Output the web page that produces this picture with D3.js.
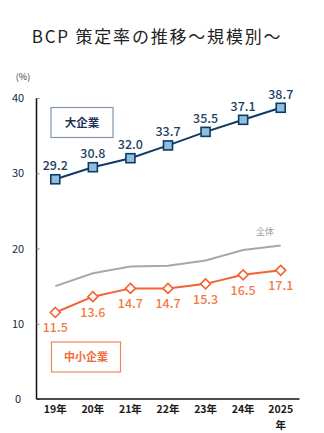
<!DOCTYPE html>
<html><head><meta charset="utf-8">
<script src="https://cdn.jsdelivr.net/npm/d3@7"></script>
<style>body{margin:0;background:#fff;}svg{display:block;font-family:"Noto Sans CJK JP","Noto Sans",sans-serif;}</style>
</head><body><svg id="c" width="324" height="433"></svg>
<script>
const categories = ["19年","20年","21年","22年","23年","24年","2025\n年"];
const largeValues = [29.2,30.8,32.0,33.7,35.5,37.1,38.7];
const smeValues = [11.5,13.6,14.7,14.7,15.3,16.5,17.1];
const allValues = [15.0,16.7,17.6,17.7,18.4,19.8,20.4];
const yTicks = [0,10,20,30,40];

const svg = d3.select("#c");
const x = d3.scalePoint().domain(categories).range([36.5,299.5]).padding(0.5);
const y = d3.scaleLinear().domain([0,40]).range([399,98]);

svg.append("text").attr("x",157).attr("y",43).attr("text-anchor","middle")
  .attr("font-size",17).attr("letter-spacing",1.8).attr("fill","#222").text("BCP 策定率の推移～規模別～");
svg.append("text").attr("x",23).attr("y",80).attr("text-anchor","middle")
  .attr("font-size",9).attr("fill","#333").text("(%)");

// y axis
const ya = svg.append("g").attr("transform","translate(36.5,0)")
  .call(d3.axisRight(y).tickValues(yTicks).tickSize(3).tickFormat(""));
ya.select(".domain").attr("stroke","#111").attr("stroke-width",1.5).attr("d","M0,98V399");
ya.selectAll(".tick line").attr("stroke","#888");
svg.selectAll(".ylab").data(yTicks).join("text").attr("class","ylab")
  .attr("x",18).attr("y",d=>y(d)+4).attr("text-anchor","middle")
  .attr("font-size",11).attr("fill","#1c2a3a").text(d=>d);

// x axis
const xa = svg.append("g").attr("transform","translate(0,399)")
  .call(d3.axisBottom(x).tickSize(0).tickFormat(""));
xa.select(".domain").attr("stroke","#111").attr("stroke-width",1.5).attr("d","M36.5,0H299.5");
categories.forEach(c=>{
  const lines=c.split("\n");
  lines.forEach((l,i)=>{
    svg.append("text").attr("x",x(c)).attr("y",413+i*15.5).attr("text-anchor","middle")
      .attr("font-size",10.5).attr("font-weight","bold").attr("fill","#1a1a1a").text(l);
  });
});

const line = d3.line().x((d,i)=>x(categories[i])).y(d=>y(d));

// all
svg.append("path").datum(allValues).attr("d",line).attr("fill","none").attr("stroke","#a8a8a8").attr("stroke-width",2);
svg.append("text").attr("x",265).attr("y",235).attr("text-anchor","middle").attr("font-size",9).attr("fill","#9a9a9a").text("全体");

// large
svg.append("path").datum(largeValues).attr("d",line).attr("fill","none").attr("stroke","#0f3a66").attr("stroke-width",2);
svg.selectAll(".sq").data(largeValues).join("rect").attr("class","sq")
  .attr("x",(d,i)=>x(categories[i])-4.5).attr("y",d=>y(d)-4.5).attr("width",9).attr("height",9)
  .attr("fill","#8cc0de").attr("stroke","#0f3a66").attr("stroke-width",1.6);
svg.selectAll(".ll").data(largeValues).join("text").attr("class","ll")
  .attr("x",(d,i)=>x(categories[i])).attr("y",d=>y(d)-9).attr("text-anchor","middle")
  .attr("font-size",12.5).attr("font-weight","500").attr("fill","#1d3f66").text(d=>d.toFixed(1));

// sme
svg.append("path").datum(smeValues).attr("d",line).attr("fill","none").attr("stroke","#f26333").attr("stroke-width",2);
svg.selectAll(".dm").data(smeValues).join("path").attr("class","dm")
  .attr("transform",(d,i)=>`translate(${x(categories[i])},${y(d)})`)
  .attr("d","M0,-5L5,0L0,5L-5,0Z").attr("fill","#fff").attr("stroke","#f26333").attr("stroke-width",1.6);
svg.selectAll(".sl").data(smeValues).join("text").attr("class","sl")
  .attr("x",(d,i)=>x(categories[i])).attr("y",d=>y(d)+20).attr("text-anchor","middle")
  .attr("font-size",12.5).attr("font-weight","500").attr("fill","#f47a45").text(d=>d.toFixed(1));

// legend boxes
svg.append("rect").attr("x",51).attr("y",107.5).attr("width",62).attr("height",30).attr("fill","#fff").attr("stroke","#8296ab").attr("stroke-width",1.2);
svg.append("text").attr("x",82).attr("y",126.5).attr("text-anchor","middle").attr("font-size",11.5).attr("font-weight","bold").attr("fill","#1b3358").text("大企業");
svg.append("rect").attr("x",51.5).attr("y",342).attr("width",69).attr("height",30).attr("fill","#fff").attr("stroke","#f2845a").attr("stroke-width",1.2);
svg.append("text").attr("x",86).attr("y",361).attr("text-anchor","middle").attr("font-size",11).attr("font-weight","bold").attr("fill","#f26a3a").text("中小企業");
</script></body></html>
